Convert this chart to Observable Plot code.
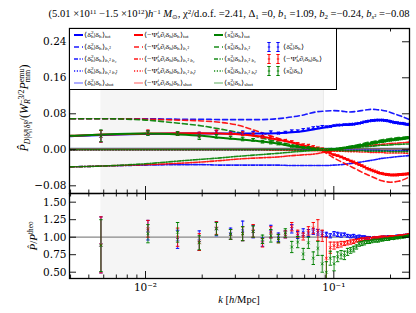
<!DOCTYPE html>
<html><head><meta charset="utf-8">
<script src="https://cdn.jsdelivr.net/npm/d3@7"></script>
<script src="https://cdn.jsdelivr.net/npm/@observablehq/plot@0.6"></script>
<style>
html,body{margin:0;padding:0;background:#fff;}
#fig{position:relative;width:416px;height:313px;overflow:hidden;background:#fff;}
#fig svg.plot{position:absolute;left:0;}
.t{position:absolute;white-space:nowrap;font-family:"Liberation Serif",serif;color:#000;line-height:1;}
.ss{display:inline-block;vertical-align:-0.3em;font-size:0.66em;line-height:0.8em;text-align:left;}
.sb{font-size:0.66em;vertical-align:-0.3em;line-height:0;}
.sp{font-size:0.66em;vertical-align:0.45em;line-height:0;}
.leg{line-height:0.9;}
</style></head>
<body><div id="fig"></div>
<script>
// ---------- data ----------
const kBins = [0.0058,0.0103,0.0148,0.0193,0.0238,0.0283,0.0328,0.0373,0.0418,0.0463,
  0.0508,0.0553,0.0598,0.0643,0.0688,0.0733,0.0778,0.0823,0.0868,0.0913,
  0.0958,0.1003,0.1048,0.1093,0.1138,0.1183,0.1228,0.1273,0.1318,0.1363,
  0.1408,0.1453,0.1498,0.1543,0.1588,0.1633,0.1678,0.1723,0.1768,0.1813,
  0.1858,0.1903,0.1948,0.1993,0.2038,0.2083,0.2128,0.2173,0.2218,0.2263,
  0.2308,0.2353,0.2398,0.2443,0.2488];
const kCurve = [0.004,0.006,0.01,0.015,0.02,0.025,0.03,0.04,0.05,0.06,0.07,0.08,0.09,0.1,0.11,0.12,0.13,0.14,0.15,0.16,0.17,0.18,0.19,0.2,0.22,0.25];

const blueTot = [0.030,0.033,0.035,0.036,0.036,0.036,0.036,0.036,0.037,0.039,0.042,0.046,0.050,0.053,0.055,0.055,0.057,0.060,0.063,0.065,0.066,0.066,0.065,0.063,0.060,0.056];
const blueB1 = [0.069,0.069,0.069,0.068,0.068,0.067,0.067,0.067,0.069,0.073,0.078,0.084,0.086,0.087,0.086,0.084,0.085,0.087,0.089,0.090,0.089,0.088,0.086,0.083,0.077,0.068];
const blueB2 = [-0.038,-0.036,-0.034,-0.033,-0.033,-0.034,-0.034,-0.034,-0.034,-0.035,-0.035,-0.035,-0.035,-0.034,-0.033,-0.031,-0.029,-0.027,-0.025,-0.023,-0.021,-0.019,-0.018,-0.017,-0.015,-0.013];
const blueBs = [0,0,0,0,0,0,0,0,0,0,0,0,0,-0.001,-0.001,-0.001,-0.001,-0.001,-0.001,-0.001,-0.001,-0.002,-0.002,-0.002,-0.002,-0.002];
const blueShot = [0.0025,0.0025,0.0025,0.0025,0.0025,0.0025,0.0025,0.0025,0.0025,0.0025,0.0025,0.0025,0.0025,0.0025,0.0025,0.0025,0.0025,0.0025,0.0025,0.0025,0.0025,0.0025,0.0025,0.0025,0.0025,0.0025];

const redTot = [0.031,0.034,0.036,0.037,0.037,0.036,0.035,0.030,0.023,0.016,0.009,0.004,-0.003,-0.011,-0.016,-0.023,-0.029,-0.035,-0.041,-0.046,-0.050,-0.053,-0.055,-0.056,-0.055,-0.053];
const redB1 = [0.069,0.069,0.068,0.066,0.064,0.061,0.056,0.040,0.026,0.016,0.009,0.003,-0.006,-0.018,-0.027,-0.035,-0.042,-0.049,-0.055,-0.060,-0.065,-0.069,-0.071,-0.072,-0.070,-0.061];
const redB2 = [-0.038,-0.036,-0.033,-0.030,-0.027,-0.024,-0.021,-0.018,-0.016,-0.013,-0.011,-0.009,-0.005,-0.001,0.002,0.004,0.006,0.008,0.009,0.010,0.011,0.012,0.013,0.014,0.015,0.017];
const redBs = [0,0,0,0,0,0,0,0,-0.001,-0.001,-0.001,-0.002,-0.002,-0.003,-0.003,-0.004,-0.004,-0.005,-0.005,-0.006,-0.006,-0.006,-0.007,-0.007,-0.007,-0.008];
const redShot = [0.0022,0.0022,0.0022,0.0022,0.0022,0.0022,0.0022,0.0022,0.0022,0.0022,0.0022,0.0022,0.0022,0.0022,0.0022,0.0022,0.0022,0.0022,0.0022,0.0022,0.0022,0.0022,0.0022,0.0022,0.0022,0.0022];

const greenTot = [0.031,0.034,0.036,0.034,0.031,0.027,0.024,0.019,0.014,0.008,0.005,0.002,0.000,0.001,0.003,0.005,0.008,0.010,0.012,0.015,0.017,0.019,0.021,0.022,0.024,0.027];
const greenB1 = [0.069,0.069,0.066,0.059,0.053,0.046,0.040,0.028,0.018,0.011,0.006,0.002,0.000,0.001,0.004,0.007,0.010,0.013,0.016,0.018,0.020,0.022,0.024,0.025,0.027,0.029];
const greenB2 = [-0.038,-0.036,-0.031,-0.025,-0.021,-0.018,-0.015,-0.011,-0.008,-0.005,-0.003,-0.001,0.000,0.002,0.003,0.004,0.005,0.006,0.007,0.008,0.009,0.010,0.010,0.011,0.012,0.013];
const greenBs = [0,0,0,0,0,0,0,0,0,0,-0.001,-0.001,-0.001,-0.001,-0.002,-0.002,-0.002,-0.002,-0.003,-0.003,-0.003,-0.003,-0.003,-0.004,-0.004,-0.004];
const greenShot = [0.0028,0.0028,0.0028,0.0028,0.0028,0.0028,0.0028,0.0028,0.0028,0.0028,0.0028,0.0028,0.0028,0.0028,0.0028,0.0028,0.0028,0.0028,0.0028,0.0028,0.0028,0.0028,0.0028,0.0028,0.0028,0.0028];

const topBlue = [0.030,0.038,0.036,0.034,0.039,0.037,0.038,0.038,0.034,0.039,
  0.037,0.039,0.042,0.042,0.045,0.046,0.049,0.050,0.052,0.051,
  0.052,0.054,0.055,0.055,0.056,0.056,0.057,0.057,0.058,0.059,
  0.060,0.062,0.063,0.064,0.065,0.065,0.066,0.066,0.066,0.066,
  0.065,0.065,0.064,0.063,0.062,0.061,0.060,0.060,0.059,0.059,
  0.059,0.058,0.057,0.057,0.056];
const topRed = [0.030,0.039,0.036,0.034,0.040,0.036,0.036,0.034,0.029,0.027,
  0.022,0.021,0.018,0.014,0.011,0.010,0.007,0.004,0.002,-0.001,
  -0.005,-0.011,-0.013,-0.016,-0.019,-0.022,-0.025,-0.027,-0.030,-0.033,
  -0.035,-0.038,-0.041,-0.043,-0.045,-0.047,-0.049,-0.051,-0.052,-0.053,
  -0.054,-0.055,-0.055,-0.056,-0.056,-0.056,-0.056,-0.056,-0.055,-0.055,
  -0.055,-0.054,-0.054,-0.054,-0.053];
const topGreen = [0.031,0.037,0.036,0.028,0.030,0.027,0.024,0.022,0.018,0.016,
  0.013,0.012,0.008,0.008,0.005,0.005,0.002,0.002,0.001,0.000,
  0.001,0.001,0.002,0.003,0.004,0.005,0.006,0.007,0.008,0.009,
  0.010,0.011,0.012,0.013,0.014,0.015,0.016,0.017,0.018,0.018,
  0.019,0.020,0.021,0.021,0.022,0.022,0.023,0.023,0.024,0.024,
  0.025,0.025,0.026,0.026,0.027];
const topErr = [0.013,0.005,0.004,0.005,0.004,0.003,0.004,0.003,0.003,0.003,
  0.002,0.002,0.002,0.002,0.002,0.002,0.002,0.002,0.002,0.002,
  0.002,0.0015,0.0015,0.0015,0.0015,0.0015,0.0015,0.0015,0.0015,0.0015,
  0.0015,0.0015,0.0015,0.0015,0.0015,0.0015,0.0015,0.0015,0.0015,0.0015,
  0.0015,0.0015,0.0015,0.0015,0.0015,0.0015,0.0015,0.0015,0.0015,0.0015,
  0.0015,0.0015,0.0015,0.0015,0.0015];

const ratioBlue = [0.89,1.10,0.97,0.95,1.12,1.05,1.09,1.08,0.93,1.08,
  1.00,1.04,1.12,1.03,1.07,1.06,1.08,1.07,1.05,1.04,
  1.02,1.05,1.04,1.03,1.04,1.02,1.01,1.02,1.00,1.01,
  1.00,1.00,0.99,0.99,0.98,0.99,0.99,0.99,0.99,1.00,
  1.00,1.00,1.01,1.00,1.01,1.01,1.01,1.02,1.01,1.02,
  1.02,1.02,1.03,1.03,1.04];
const ratioRed = [0.89,1.12,1.00,0.93,1.13,1.04,1.05,1.09,0.92,1.07,
  0.98,1.04,1.15,1.05,1.01,1.09,1.13,1.10,1.02,0.70,
  0.85,0.88,0.89,0.90,0.91,0.92,0.93,0.94,0.95,0.96,
  0.97,0.97,0.98,0.98,0.98,0.99,0.99,0.99,1.00,1.00,
  1.00,1.00,1.00,1.01,1.01,1.01,1.01,1.01,1.02,1.02,
  1.02,1.02,1.03,1.03,1.04];
const ratioGreen = [0.88,1.05,1.07,0.92,1.12,1.04,1.05,1.08,0.97,1.02,
  0.98,1.06,0.86,0.93,0.76,0.92,0.70,0.84,0.62,0.50,
  0.70,0.62,0.72,0.75,0.74,0.79,0.81,0.83,0.86,0.90,
  0.91,0.92,0.93,0.93,0.94,0.95,0.95,0.95,0.96,0.96,
  0.97,0.97,0.97,0.98,0.98,0.98,0.99,0.99,0.99,1.00,
  1.00,1.00,1.01,1.01,1.02];
const errBlue = [0.40,0.14,0.13,0.14,0.10,0.08,0.14,0.09,0.06,0.09,
  0.06,0.05,0.06,0.05,0.05,0.05,0.04,0.04,0.04,0.03,
  0.03,0.03,0.03,0.03,0.02,0.02,0.02,0.02,0.02,0.02,
  0.02,0.02,0.02,0.02,0.015,0.015,0.015,0.015,0.015,0.015,
  0.015,0.012,0.012,0.012,0.012,0.012,0.01,0.01,0.01,0.01,
  0.01,0.01,0.01,0.01,0.01];
const errRed = [0.40,0.12,0.13,0.12,0.09,0.07,0.10,0.09,0.06,0.08,
  0.06,0.05,0.06,0.05,0.05,0.06,0.08,0.15,0.08,0.30,
  0.08,0.05,0.04,0.04,0.03,0.03,0.03,0.03,0.02,0.02,
  0.02,0.02,0.02,0.02,0.015,0.015,0.015,0.015,0.015,0.015,
  0.015,0.012,0.012,0.012,0.012,0.012,0.01,0.01,0.01,0.01,
  0.01,0.01,0.01,0.01,0.01];
const errGreen = [0.37,0.13,0.14,0.10,0.09,0.07,0.10,0.08,0.06,0.09,
  0.06,0.06,0.08,0.08,0.08,0.08,0.09,0.10,0.12,0.15,
  0.10,0.10,0.07,0.06,0.06,0.05,0.04,0.04,0.03,0.03,
  0.03,0.03,0.02,0.02,0.02,0.02,0.02,0.02,0.015,0.015,
  0.015,0.015,0.015,0.012,0.012,0.012,0.012,0.01,0.01,0.01,
  0.01,0.01,0.01,0.01,0.01];

const shadeRange = [0.0058, 0.088];
const xMajor = [0.01, 0.1];
const xMajorLabels = ["10⁻²", "10⁻¹"];
const xMinor = [0.004,0.005,0.006,0.007,0.008,0.009,0.02,0.03,0.04,0.05,0.06,0.07,0.08,0.09,0.2];
const yTicksTop = [-0.08, 0, 0.08, 0.16, 0.24];
const yTicksBot = [0.5, 0.75, 1, 1.25, 1.5];
const colors = {blue: "#0000ff", red: "#ff0000", green: "#008000"};

// ---------- helpers ----------
const fig = document.getElementById("fig");
const cap = {draw(ctx, size) { const h = Math.sqrt(size / Math.PI); ctx.moveTo(-h, 0); ctx.lineTo(h, 0); }};
const curves = {
  tot: {blue: blueTot, red: redTot, green: greenTot},
  b1: {blue: blueB1, red: redB1, green: greenB1},
  b2: {blue: blueB2, red: redB2, green: greenB2},
  bs: {blue: blueBs, red: redBs, green: greenBs},
  shot: {blue: blueShot, red: redShot, green: greenShot}
};
const styles = {
  shot: {dash: null, w: 1.6, op: 0.4},
  bs: {dash: "1.2,1.6", w: 1.6, op: 0.9},
  b2: {dash: "4,1.5,1.2,1.5", w: 1.6, op: 0.9},
  b1: {dash: "5,3", w: 1.6, op: 0.9},
  tot: {dash: null, w: 2, op: 1}
};
function curveRows(key) {
  const out = [];
  for (const c of ["blue", "red", "green"]) curves[key][c].forEach((v, i) => out.push({k: kCurve[i], v, c: colors[c]}));
  return out;
}
function ptRows(vals, errs, c) { return vals.map((v, i) => ({k: kBins[i], v, e: errs[i], c: colors[c]})); }
function errMarks(P, clip) {
  return [
    Plot.ruleX(P, {x: "k", y1: d => d.v - d.e, y2: d => d.v + d.e, stroke: "c", strokeWidth: 1, strokeOpacity: 0.85, clip}),
    Plot.dot(P, {x: "k", y: d => d.v + d.e, symbol: cap, r: 1.7, stroke: "c", fill: "none", strokeWidth: 1, clip}),
    Plot.dot(P, {x: "k", y: d => d.v - d.e, symbol: cap, r: 1.7, stroke: "c", fill: "none", strokeWidth: 1, clip}),
    Plot.dot(P, {x: "k", y: "v", symbol: "times", r: 1.4, stroke: "c", strokeWidth: 0.8, clip})
  ];
}
const frameW = 340;
function tickMarks(H, yT) {
  return [
    Plot.tickX(xMajor, {x: d => d, insetTop: H - 7, stroke: "#000", strokeWidth: 0.9}),
    Plot.tickX(xMajor, {x: d => d, insetBottom: H - 7, stroke: "#000", strokeWidth: 0.9}),
    Plot.tickX(xMinor, {x: d => d, insetTop: H - 3.5, stroke: "#000", strokeWidth: 0.9}),
    Plot.tickX(xMinor, {x: d => d, insetBottom: H - 3.5, stroke: "#000", strokeWidth: 0.9}),
    Plot.tickY(yT, {y: d => d, insetRight: frameW - 7, stroke: "#000", strokeWidth: 0.9}),
    Plot.tickY(yT, {y: d => d, insetLeft: frameW - 7, stroke: "#000", strokeWidth: 0.9})
  ];
}
const fmt = d => (d < 0 ? "−" : "") + Math.abs(d).toFixed(2);
const xDomain = [0.003948, 0.2523];
const common = {width: 416, marginLeft: 69, marginRight: 7, className: "plot",
  style: {fontFamily: "DejaVu Serif", fontSize: "10.5px", background: "transparent", overflow: "visible", color: "#000"}};

// ---------- top panel ----------
const topPlot = Plot.plot({
  ...common, height: 196, marginTop: 28, marginBottom: 3,
  x: {type: "log", domain: xDomain, axis: null},
  y: {domain: [-0.0971, 0.2695]},
  color: {type: "identity"},
  marks: [
    Plot.rect([shadeRange], {x1: d => d[0], x2: d => d[1], fill: "#f5f5f5"}),
    Plot.ruleX([shadeRange[1]], {x: d => d, stroke: "#e2e2e2", strokeWidth: 0.8}),
    Plot.ruleY([0], {stroke: "#666", strokeWidth: 0.8}),
    ...["shot", "bs", "b2", "b1", "tot"].map(key => Plot.line(curveRows(key), {
      x: "k", y: "v", z: "c", stroke: "c", curve: "monotone-x",
      strokeWidth: styles[key].w, strokeOpacity: styles[key].op, strokeDasharray: styles[key].dash
    })),
    ...errMarks(ptRows(topBlue, topErr, "blue"), false),
    ...errMarks(ptRows(topRed, topErr, "red"), false),
    ...errMarks(ptRows(topGreen, topErr, "green"), false),
    ...tickMarks(165, yTicksTop),
    Plot.axisY({ticks: yTicksTop, tickSize: 0, tickPadding: 3, tickFormat: fmt, label: null}),
    Plot.frame({stroke: "#000", strokeWidth: 1.3})
  ]
});
topPlot.style.top = "0px";
fig.appendChild(topPlot);

// ---------- bottom panel ----------
const botPlot = Plot.plot({
  ...common, height: 123, marginTop: 3, marginBottom: 35,
  x: {type: "log", domain: xDomain},
  y: {domain: [0.41, 1.624]},
  color: {type: "identity"},
  marks: [
    Plot.rect([shadeRange], {x1: d => d[0], x2: d => d[1], fill: "#f5f5f5"}),
    Plot.ruleX([shadeRange[1]], {x: d => d, stroke: "#e2e2e2", strokeWidth: 0.8}),
    Plot.ruleY([1], {stroke: "#888", strokeWidth: 1.3}),
    ...errMarks(ptRows(ratioBlue, errBlue, "blue"), true),
    ...errMarks(ptRows(ratioRed, errRed, "red"), true),
    ...errMarks(ptRows(ratioGreen, errGreen, "green"), true),
    ...tickMarks(85, yTicksBot),
    Plot.axisY({ticks: yTicksBot, tickSize: 0, tickPadding: 3, tickFormat: fmt, label: null}),
    Plot.axisX({ticks: xMajor, tickSize: 0, tickPadding: 5, tickFormat: d => xMajorLabels[xMajor.indexOf(d)], label: null}),
    Plot.frame({stroke: "#000", strokeWidth: 1.3})
  ]
});
botPlot.style.top = "190px";
fig.appendChild(botPlot);

// ---------- text helpers ----------
const ss = (sup, sub) => `<span class="ss">${sup}<br>${sub}</span>`;
const sb = s => `<span class="sb">${s}</span>`;
const sp = s => `<span class="sp">${s}</span>`;
function addText(html, x, y, size, opts = {}) {
  const el = document.createElement("div");
  el.className = "t" + (opts.cls ? " " + opts.cls : "");
  el.innerHTML = html;
  el.style.fontSize = size + "px";
  el.style.left = x + "px";
  el.style.top = y + "px";
  const ax = opts.anchor === "middle" ? "-50%" : "0";
  el.style.transformOrigin = opts.anchor === "middle" ? "50% 50%" : "0 50%";
  el.style.transform = `translate(${ax},-50%)` + (opts.rotate ? " rotate(-90deg)" : "") + (opts.sx ? ` scaleX(${opts.sx})` : "");
  fig.appendChild(el);
  return el;
}
function addSvg(x, y, w, h, inner) {
  const el = document.createElementNS("http://www.w3.org/2000/svg", "svg");
  el.setAttribute("width", w); el.setAttribute("height", h);
  el.style.position = "absolute"; el.style.left = x + "px"; el.style.top = y + "px";
  el.innerHTML = inner;
  fig.appendChild(el);
}

// ---------- legend ----------
const legendBox = document.createElement("div");
Object.assign(legendBox.style, {position: "absolute", left: "69px", top: "28px", width: "268px", height: "62px",
  border: "1px solid #000", background: "#fff", boxSizing: "border-box"});
fig.appendChild(legendBox);

const dh = `δ${sb("h")}`;
const estimators = [
  `⟨δ${ss("2", "h")}|${dh}⟩`,
  `⟨−Ψ${ss("<i>i</i>", "h")}∂${sb("<i>i</i>")}δ${sb("h")}|${dh}⟩`,
  `⟨<i>s</i>${ss("2", "h")}|${dh}⟩`
];
const terms = ["tot", "<i>b</i>₁²", "<i>b</i>₁² <i>b</i>₂", "<i>b</i>₁² <i>b</i>ₛ²", "shot"];
const termKeys = ["tot", "b1", "b2", "bs", "shot"];
const colNames = ["blue", "red", "green"];
const colX = [74, 134, 214];
const rowY = [35, 47, 59, 71, 83];
colNames.forEach((c, ci) => {
  termKeys.forEach((key, ri) => {
    const st = styles[key];
    addSvg(colX[ci], rowY[ri] - 2, 9, 4,
      `<line x1="0" y1="2" x2="9" y2="2" stroke="${colors[c]}" stroke-width="${st.w}" stroke-opacity="${st.op}" ${st.dash ? `stroke-dasharray="${st.dash}"` : ""}/>`);
    addText(estimators[ci] + sb(terms[ri]), colX[ci] + 10, rowY[ri], 7, {cls: "leg", sx: 1.12});
  });
});
colNames.forEach((c, ci) => {
  const y = rowY[ci + 1];
  const bar = (x) => `<line x1="${x}" y1="0.5" x2="${x}" y2="9.5" stroke="${colors[c]}" stroke-width="1"/>` +
    `<line x1="${x-1.7}" y1="0.5" x2="${x+1.7}" y2="0.5" stroke="${colors[c]}" stroke-width="1"/>` +
    `<line x1="${x-1.7}" y1="9.5" x2="${x+1.7}" y2="9.5" stroke="${colors[c]}" stroke-width="1"/>` +
    `<line x1="${x-1.2}" y1="5" x2="${x+1.2}" y2="5" stroke="${colors[c]}" stroke-width="1"/>`;
  addSvg(266, y - 5, 16, 10, bar(3) + bar(12));
  addText(estimators[ci], 283, y, 7, {cls: "leg", sx: 1.12});
});

// ---------- title & labels ----------
const title = addText(`(5.01 ×10${sp("11")} −1.5 ×10${sp("12")})<i>h</i>${sp("−1")} <i>M</i>${sb("⊙")}, χ${sp("2")}/d.o.f. =2.41, Δ${sb("1")} =0, <i>b</i>${sb("1")} =1.09, <i>b</i>${sb("2")} =−0.24, <i>b</i>${sb("<i>s</i>²")} =−0.08`, 228.5, 15, 9.5, {anchor: "middle"});
const tw = title.getBoundingClientRect().width;
title.style.transform = `translate(-50%,-50%) scaleX(${361 / tw})`;

addText(`<i>P̂</i>${sb(`<i>D</i>|δ${ss("<i>R</i>", "s")}|δ${ss("<i>R</i>", "h")}`)}/(<i>W</i>${ss("−3/2", "<i>R</i>")}<i>P</i>${ss("emu", "mm")})`, 25, 108, 12, {anchor: "middle", rotate: true});
addText(`<i>P̂</i>/<i>P</i>${sp("theo")}`, 33, 236, 11, {anchor: "middle", rotate: true});
addText(`<i>k</i> [<i>h</i>/Mpc]`, 239, 300, 10.5, {anchor: "middle"});
</script></body></html>
